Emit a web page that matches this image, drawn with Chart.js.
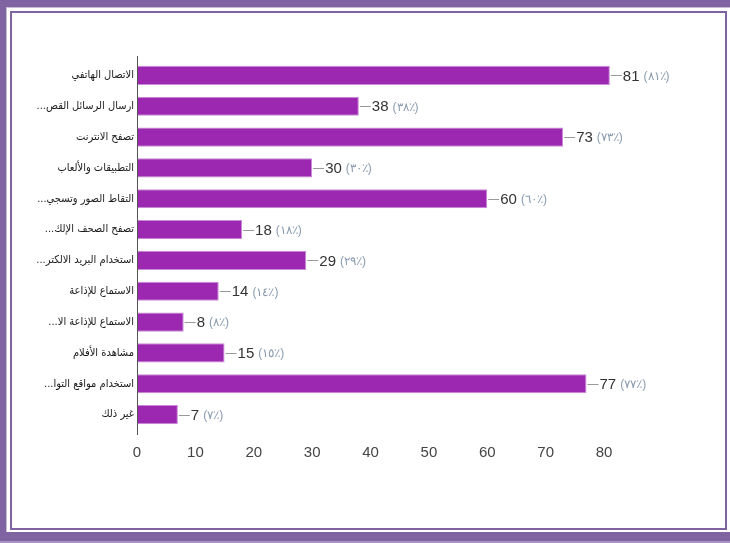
<!DOCTYPE html>
<html>
<head>
<meta charset="utf-8">
<script src="https://cdn.jsdelivr.net/npm/chart.js@4"></script>
<style>
  body { margin: 0; width: 730px; height: 543px; overflow: hidden; background: #8064A2; position: relative; }
  #paper { position: absolute; left: 6px; top: 7px; width: 724px; height: 525px; background: #fff; border-left: 1px solid #c8bcd9; border-top: 1px solid #c8bcd9; box-sizing: border-box; }
  #frame { position: absolute; left: 10px; top: 11px; width: 717px; height: 519px; border: 2px solid #8064A2; box-sizing: border-box; }
  #bottomline { position: absolute; left: 0; top: 541px; width: 730px; height: 2px; background: #a894c2; }
  canvas { position: absolute; left: 0; top: 0; }
</style>
</head>
<body>
<div id="paper"></div>
<div id="frame"></div>
<div id="bottomline"></div>
<canvas id="chart" width="730" height="543"></canvas>
<script>
const categories = [
  'الاتصال الهاتفي',
  '...ارسال الرسائل القص',
  'تصفح الانترنت',
  'التطبيقات والألعاب',
  '...التقاط الصور وتسجي',
  '...تصفح الصحف الإلك',
  '...استخدام البريد الالكتر',
  'الاستماع للإذاعة',
  '...الاستماع للإذاعة الا',
  'مشاهدة الأفلام',
  '...استخدام مواقع التوا',
  'غير ذلك'
];
const values = [81, 38, 73, 30, 60, 18, 29, 14, 8, 15, 77, 7];
const percentLabels = ['(٨١٪)', '(٣٨٪)', '(٧٣٪)', '(٣٠٪)', '(٦٠٪)', '(١٨٪)', '(٢٩٪)', '(١٤٪)', '(٨٪)', '(١٥٪)', '(٧٧٪)', '(٧٪)'];
const xTicks = [0, 10, 20, 30, 40, 50, 60, 70, 80];

const numFont = '"Liberation Sans Narrow", "Arial Narrow", "Liberation Sans", Arial, sans-serif';

// value labels with a short connector line after each bar
const barLabels = {
  id: 'barLabels',
  afterDatasetsDraw(chart) {
    const ctx = chart.ctx;
    const meta = chart.getDatasetMeta(0);
    ctx.save();
    meta.data.forEach((bar, i) => {
      const x = bar.x, y = bar.y;
      ctx.strokeStyle = '#999';
      ctx.lineWidth = 1;
      ctx.beginPath();
      ctx.moveTo(x + 1, Math.round(y) + 0.5);
      ctx.lineTo(x + 12, Math.round(y) + 0.5);
      ctx.stroke();
      ctx.textBaseline = 'middle';
      ctx.textAlign = 'left';
      ctx.font = '15px ' + numFont;
      ctx.fillStyle = '#333';
      const s = String(values[i]);
      ctx.fillText(s, x + 13, y + 1);
      const w = ctx.measureText(s).width;
      ctx.font = '12px ' + numFont;
      ctx.fillStyle = '#8a9bb0';
      ctx.fillText(percentLabels[i], x + 17 + w, y + 1);
    });
    ctx.restore();
  }
};

// vertical axis line, a little longer than the plot area
const axisLine = {
  id: 'axisLine',
  afterDraw(chart) {
    const ctx = chart.ctx;
    const a = chart.chartArea;
    ctx.save();
    ctx.strokeStyle = '#555';
    ctx.lineWidth = 1;
    ctx.beginPath();
    ctx.moveTo(Math.round(a.left) + 0.5, a.top - 4);
    ctx.lineTo(Math.round(a.left) + 0.5, a.bottom + 5);
    ctx.stroke();
    ctx.restore();
  }
};

new Chart(document.getElementById('chart'), {
  type: 'bar',
  data: {
    labels: categories,
    datasets: [{
      data: values,
      backgroundColor: '#9C27B0',
      borderColor: '#c98ad6',
      borderWidth: 1,
      categoryPercentage: 0.62,
      barPercentage: 1,
      clip: false
    }]
  },
  options: {
    indexAxis: 'y',
    responsive: false,
    animation: false,
    layout: { padding: { top: 60, right: 126, bottom: 0, left: 0 } },
    plugins: { legend: { display: false }, tooltip: { enabled: false } },
    scales: {
      x: {
        min: 0,
        max: 80,
        afterBuildTicks(scale) { scale.ticks = xTicks.map(v => ({ value: v })); },
        grid: { display: false, drawTicks: false },
        border: { display: false },
        ticks: { color: '#444', padding: 14, font: { family: numFont, size: 15 } },
        afterFit(scale) { scale.height = 113; }
      },
      y: {
        grid: { display: false, drawTicks: false },
        border: { display: false },
        ticks: { color: '#1a1a1a', padding: 3, font: { family: '"DejaVu Sans Condensed", "DejaVu Sans", sans-serif', size: 11 } },
        afterFit(scale) { scale.width = 137; }
      }
    }
  },
  plugins: [barLabels, axisLine]
});
</script>
</body>
</html>
